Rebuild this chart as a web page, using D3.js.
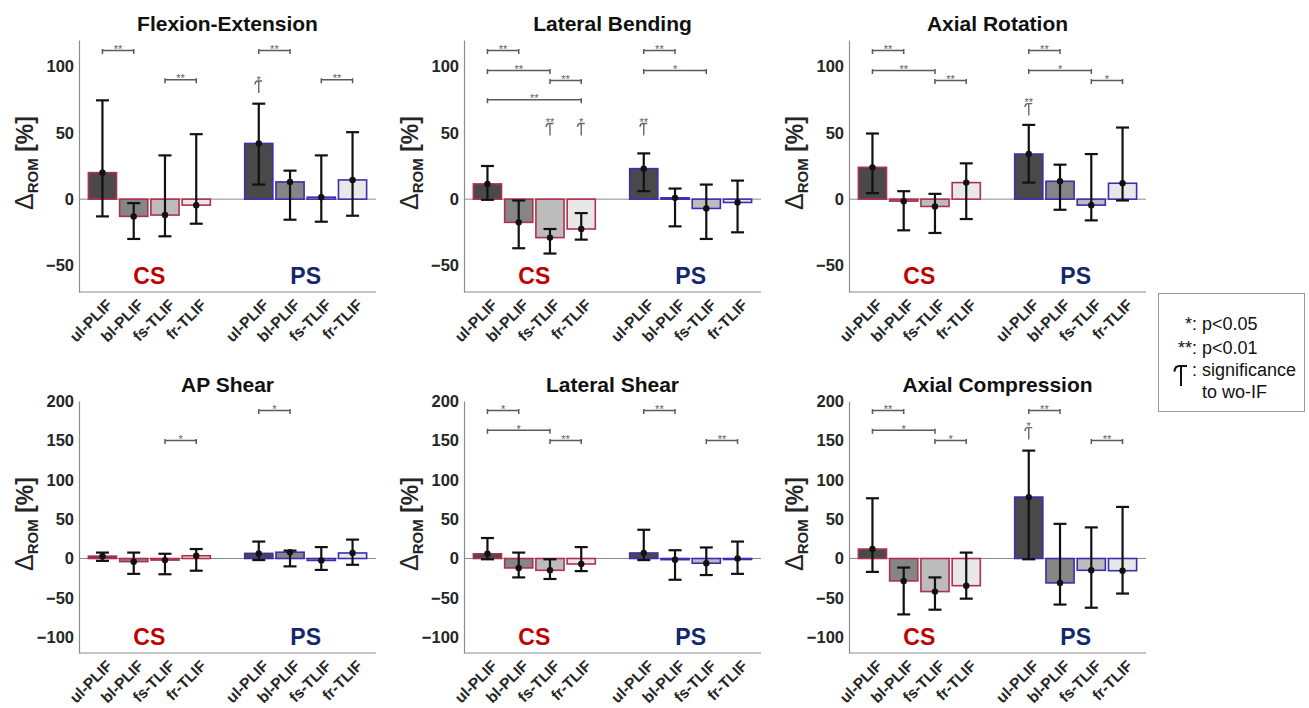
<!DOCTYPE html>
<html>
<head>
<meta charset="utf-8">
<script src="https://cdn.jsdelivr.net/npm/d3@7"></script>
<style>
  body { margin: 0; background: #fff; }
  text { font-family: "Liberation Sans", Arial, sans-serif; }
</style>
</head>
<body>
<svg id="fig" width="1309" height="708"></svg>
<script>
// categories
const methods = ['ul-PLIF', 'bl-PLIF', 'fs-TLIF', 'fr-TLIF']
const groupNames = ['CS', 'PS']
const slots = [1, 2, 3, 4, 6, 7, 8, 9] // x position of the 8 bars, gap between CS and PS
const titles = ['Flexion-Extension', 'Lateral Bending', 'Axial Rotation', 'AP Shear', 'Lateral Shear', 'Axial Compression']
const topTicks = [-50, 0, 50, 100]
const bottomTicks = [-100, -50, 0, 50, 100, 150, 200]

// values: CS ul, bl, fs, fr, PS ul, bl, fs, fr  (ΔROM %)
const feMean = [20, -13, -12, -4.5, 42, 13, 1.5, 14.5]
const feLow  = [-13, -30, -28, -18.5, 11, -15.5, -17, -12.5]
const feHigh = [74.5, -3, 33, 49, 72, 21.5, 33, 50.5]
const feSig  = [[0, 1, '**', 112], [2, 3, '**', 90], [4, 5, '**', 112], [6, 7, '**', 90]]
const feWo   = [[4, '*', 80]]

const lbMean = [11.5, -17.5, -29, -22.5, 23, 1, -7, -2.5]
const lbLow  = [-0.5, -37, -41, -30.5, 6, -20.5, -30, -25]
const lbHigh = [25, -1, -22.5, -10.5, 34.5, 8, 11, 14]
const lbSig  = [[0, 1, '**', 112], [0, 2, '**', 97], [2, 3, '**', 89.5], [0, 3, '**', 75], [4, 5, '**', 112], [4, 6, '*', 97]]
const lbWo   = [[2, '**', 48], [3, '*', 48], [4, '**', 48]]

const arMean = [24, -1.5, -5.5, 12.5, 34, 13.5, -4.5, 12]
const arLow  = [4.5, -23.5, -25.5, -15, 12.5, -8, -16, -1]
const arHigh = [49.5, 6, 4, 27, 56, 26, 34, 54]
const arSig  = [[0, 1, '**', 112], [0, 2, '**', 97], [2, 3, '**', 89.5], [4, 5, '**', 112], [4, 6, '*', 97], [6, 7, '*', 89.5]]
const arWo   = [[4, '**', 63]]

const apMean = [3, -4, -2, 3.5, 6.5, 8, -2.5, 7]
const apLow  = [-3, -19.5, -20, -15.5, -2, -10, -14.5, -8]
const apHigh = [7.5, 7.5, 6, 12, 21.5, 10, 14.5, 24]
const apSig  = [[2, 3, '*', 150], [4, 5, '*', 188]]
const apWo   = []

const lsMean = [6, -12, -15, -7, 7, -1.5, -6, 0]
const lsLow  = [-1, -24, -26, -16, -2, -27, -21, -19.5]
const lsHigh = [26, 7.5, -1, 14.5, 36.5, 10.5, 14, 21.5]
const lsSig  = [[0, 1, '*', 188], [0, 2, '*', 163], [2, 3, '**', 150], [4, 5, '**', 188], [6, 7, '**', 150]]
const lsWo   = []

const acMean = [12, -28.5, -42, -34.5, 78, -31, -15, -15.5]
const acLow  = [-17, -71, -65, -51, -1, -58.5, -62.5, -44.5]
const acHigh = [76.5, -11.5, -24, 7.5, 137, 44, 39.5, 65.5]
const acSig  = [[0, 1, '**', 188], [0, 2, '*', 163], [2, 3, '*', 150], [4, 5, '**', 188], [6, 7, '**', 150]]
const acWo   = [[4, '*', 151]]

const panelData = [
    [feMean, feLow, feHigh, feSig, feWo],
    [lbMean, lbLow, lbHigh, lbSig, lbWo],
    [arMean, arLow, arHigh, arSig, arWo],
    [apMean, apLow, apHigh, apSig, apWo],
    [lsMean, lsLow, lsHigh, lsSig, lsWo],
    [acMean, acLow, acHigh, acSig, acWo]
]

// styles
const fills = ['#494949', '#858585', '#bcbcbc', '#e8e8e8']
const edgeColors = ['#b0304e', '#3a2fb0']
const groupColors = ['#c00000', '#13286e']
const axisColor = '#8c8c8c'
const textColor = '#262626'

const svg = d3.select('#fig')
const lefts = [79, 464, 849]
const plotW = 297

// the "significance to wo-IF" glyph: T with the left arm bent down
function woGlyph(g, x, yBottom, h, w, color, sw) {
    let top = yBottom - h
    g.append('path')
        .attr('d', 'M' + (x - w * 0.55) + ',' + (top + h * 0.28) +
            ' Q' + (x - w * 0.5) + ',' + top + ' ' + (x - w * 0.15) + ',' + top +
            ' L' + (x + w * 0.5) + ',' + top +
            ' M' + x + ',' + top + ' L' + x + ',' + yBottom)
        .attr('fill', 'none')
        .attr('stroke', color)
        .attr('stroke-width', sw)
}

panelData.forEach(function (pd, pi) {
    let row = Math.floor(pi / 3)
    let col = pi % 3
    let [mean, low, high, sig, wo] = pd

    let x0 = lefts[col]
    let top = row == 0 ? 40 : 401
    let bottom = row == 0 ? 292 : 653
    let domain = row == 0 ? [-70, 120] : [-120, 200]
    let ticks = row == 0 ? topTicks : bottomTicks

    let x = d3.scaleLinear().domain([0.25, 9.75]).range([x0, x0 + plotW])
    let y = d3.scaleLinear().domain(domain).range([bottom, top])
    let g = svg.append('g')

    // title
    g.append('text')
        .attr('x', x0 + plotW / 2).attr('y', top - 9)
        .attr('text-anchor', 'middle')
        .style('font-size', '21px').style('font-weight', 'bold')
        .attr('fill', '#111')
        .text(titles[pi])

    // y axis
    let yAxis = d3.axisLeft(y).tickValues(ticks).tickSize(0).tickPadding(5)
    let ya = g.append('g').attr('transform', 'translate(' + x0 + ',0)').call(yAxis)
    ya.select('.domain').attr('stroke', axisColor).attr('stroke-width', 1.2)
    ya.selectAll('text').style('font-size', '16.5px').style('font-weight', 'bold').attr('fill', textColor)

    // x axis line
    g.append('line')
        .attr('x1', x0).attr('x2', x0 + plotW)
        .attr('y1', bottom).attr('y2', bottom)
        .attr('stroke', axisColor).attr('stroke-width', 1.2)

    // zero line
    g.append('line')
        .attr('x1', x0).attr('x2', x0 + plotW)
        .attr('y1', y(0)).attr('y2', y(0))
        .attr('stroke', '#8a8a8a').attr('stroke-width', 1)

    // y label  Δ_ROM [%]
    let lab = g.append('text')
        .attr('transform', 'translate(' + (x0 - 46) + ',' + ((top + bottom) / 2 - 3) + ') rotate(-90)')
        .attr('text-anchor', 'middle')
        .style('font-size', '23px').style('font-weight', 'bold')
        .attr('fill', textColor)
    lab.append('tspan').style('font-weight', 'normal').style('font-size', '25px').text('Δ')
    lab.append('tspan').attr('dy', 5).style('font-size', '15px').text('ROM')
    lab.append('tspan').attr('dy', -5).text(' [%]')

    // x tick labels
    slots.forEach(function (s, i) {
        g.append('text')
            .attr('transform', 'translate(' + (x(s) + 7) + ',' + (bottom + 10) + ') rotate(-45)')
            .attr('text-anchor', 'end')
            .attr('dy', '0.35em')
            .style('font-size', '15.5px').style('font-weight', 'bold')
            .attr('fill', textColor)
            .text(methods[i % 4])
    })

    // group labels
    groupNames.forEach(function (gn, k) {
        g.append('text')
            .attr('x', x(k == 0 ? 2.5 : 7.5)).attr('y', bottom - 8)
            .attr('text-anchor', 'middle')
            .style('font-size', '23px').style('font-weight', 'bold')
            .attr('fill', groupColors[k])
            .text(gn)
    })

    // bars
    let bw = x(0.9) - x(0)
    g.selectAll('rect.bar').data(mean).enter().append('rect')
        .attr('class', 'bar')
        .attr('x', (d, i) => x(slots[i]) - bw / 2)
        .attr('y', d => y(Math.max(0, d)))
        .attr('width', bw)
        .attr('height', d => Math.max(1, Math.abs(y(d) - y(0))))
        .attr('fill', (d, i) => fills[i % 4])
        .attr('stroke', (d, i) => edgeColors[Math.floor(i / 4)])
        .attr('stroke-width', 1.6)

    // error bars
    let cap = 6.5
    mean.forEach(function (m, i) {
        let cx = x(slots[i])
        let eg = g.append('g').attr('stroke', '#111').attr('stroke-width', 2.2)
        eg.append('line').attr('x1', cx).attr('x2', cx).attr('y1', y(low[i])).attr('y2', y(high[i]))
        eg.append('line').attr('x1', cx - cap).attr('x2', cx + cap).attr('y1', y(low[i])).attr('y2', y(low[i]))
        eg.append('line').attr('x1', cx - cap).attr('x2', cx + cap).attr('y1', y(high[i])).attr('y2', y(high[i]))
        g.append('circle').attr('cx', cx).attr('cy', y(m)).attr('r', 3.2).attr('fill', '#111')
    })

    // significance brackets
    sig.forEach(function (s) {
        let xa = x(slots[s[0]]), xb = x(slots[s[1]]), yy = y(s[3])
        g.append('path')
            .attr('d', 'M' + xa + ',' + (yy + 3.5) + ' L' + xa + ',' + (yy - 1.5) +
                ' M' + xa + ',' + yy + ' L' + xb + ',' + yy +
                ' M' + xb + ',' + (yy + 3.5) + ' L' + xb + ',' + (yy - 1.5))
            .attr('fill', 'none').attr('stroke', '#5a5a5a').attr('stroke-width', 1.5)
        g.append('text')
            .attr('x', (xa + xb) / 2).attr('y', yy + 2.5)
            .attr('text-anchor', 'middle')
            .style('font-size', '11px')
            .attr('fill', '#606060')
            .text(s[2])
    })

    // significance to wo-IF
    wo.forEach(function (w) {
        let cx = x(slots[w[0]])
        let yb = y(w[2])
        woGlyph(g, cx, yb, 12, 7, '#666', 1.4)
        g.append('text')
            .attr('x', cx).attr('y', yb - 9.5)
            .attr('text-anchor', 'middle')
            .style('font-size', '11px')
            .attr('fill', '#606060')
            .text(w[1])
    })
})

// legend
let lg = svg.append('g')
lg.append('rect')
    .attr('x', 1158.5).attr('y', 293.5).attr('width', 146).attr('height', 118)
    .attr('fill', '#fff').attr('stroke', '#9a9a9a').attr('stroke-width', 1)

const legendKeys = ['*:', '**:']
const legendTexts = ['p<0.05', 'p<0.01']
legendKeys.forEach(function (k, i) {
    lg.append('text').attr('x', 1197).attr('y', 330 + i * 24)
        .attr('text-anchor', 'end').style('font-size', '18px').attr('fill', '#111').text(k)
    lg.append('text').attr('x', 1202).attr('y', 330 + i * 24)
        .style('font-size', '18px').attr('fill', '#111').text(legendTexts[i])
})
woGlyph(lg, 1181, 386, 20, 12, '#111', 2)
lg.append('text').attr('x', 1197).attr('y', 376)
    .attr('text-anchor', 'end').style('font-size', '18px').attr('fill', '#111').text(':')
lg.append('text').attr('x', 1202).attr('y', 376)
    .style('font-size', '18px').attr('fill', '#111').text('significance')
lg.append('text').attr('x', 1202).attr('y', 398)
    .style('font-size', '18px').attr('fill', '#111').text('to wo-IF')
</script>
</body>
</html>
